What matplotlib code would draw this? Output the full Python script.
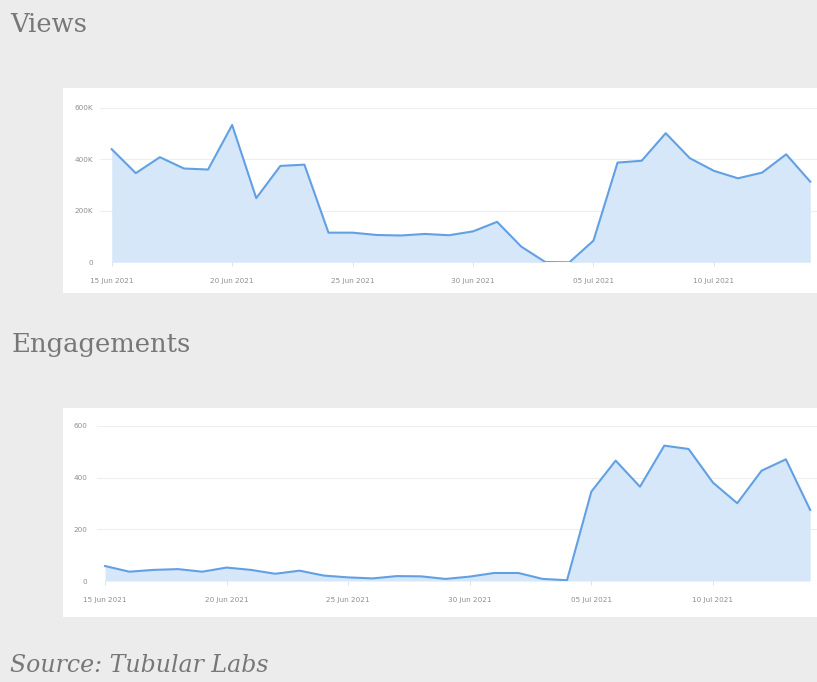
import matplotlib
matplotlib.use("Agg")
import matplotlib.pyplot as plt
import matplotlib.dates as mdates
from matplotlib.patches import Rectangle
from matplotlib.ticker import FuncFormatter
import numpy as np
import datetime as dt

# ---- data ----
start_date = "2021-06-15"
n_days = 30
views_k = [439, 346, 408, 364, 360, 533, 249, 374, 379, 115,
           115, 106, 104, 110, 105, 120, 157, 61, 1, 0,
           84, 387, 394, 501, 404, 355, 326, 348, 419, 313]
engagements = [58, 36, 43, 46, 36, 52, 43, 28, 40, 21,
               14, 10, 19, 18, 8, 17, 31, 31, 8, 3,
               346, 466, 365, 524, 511, 381, 301, 427, 471, 275]
tick_dates = ["2021-06-15", "2021-06-20", "2021-06-25", "2021-06-30",
              "2021-07-05", "2021-07-10"]
views_yticks = [0, 200000, 400000, 600000]
eng_yticks = [0, 200, 400, 600]
titles = ["Views", "Engagements"]
source_text = "Source: Tubular Labs"

d0 = np.datetime64(start_date)
dates = d0 + np.arange(n_days).astype("timedelta64[D]")
dates = dates.astype("datetime64[ms]").astype(dt.datetime)
tdates = [np.datetime64(t).astype("datetime64[ms]").astype(dt.datetime) for t in tick_dates]
views = np.array(views_k) * 1000

W, H = 817, 682
fig = plt.figure(figsize=(W / 100, H / 100), dpi=100)
fig.patch.set_facecolor("#ececec")

def px_rect(x0, y0, x1, y1):
    return Rectangle((x0 / W, 1 - y1 / H), (x1 - x0) / W, (y1 - y0) / H,
                     transform=fig.transFigure, facecolor="white",
                     edgecolor="none", zorder=-5)

fig.patches.append(px_rect(63, 88, 817, 293))
fig.patches.append(px_rect(63, 408, 817, 617))

line_c = "#62a0e4"
fill_c = "#d6e7f9"
tick_c = "#8f8f8f"

def make_ax(left_px, bottom_px, top_px, x_start, x_end):
    ax = fig.add_axes([left_px / W, 1 - bottom_px / H, (W - left_px) / W,
                       (bottom_px - top_px) / H])
    ax.set_facecolor("none")
    for s in ax.spines.values():
        s.set_visible(False)
    d0dt = dates[0]
    ax.set_xlim(mdates.date2num(d0dt) + x_start, mdates.date2num(d0dt) + x_end)
    ax.set_xticks(tdates)
    ax.xaxis.set_major_formatter(mdates.DateFormatter("%d %b %Y"))
    ax.tick_params(axis="x", length=3, width=0.6, color="#dddddd",
                   labelsize=5.2, labelcolor=tick_c, pad=8.5)
    ax.tick_params(axis="y", length=0, labelsize=5.2, labelcolor=tick_c)
    ax.grid(axis="y", color="#eeeeee", lw=0.8)
    ax.set_axisbelow(True)
    return ax

# Views
ax1 = make_ax(100, 262.3, 107.7, -0.486, 29.28)
ax1.fill_between(dates, views, 0, color=fill_c, lw=0, zorder=2)
ax1.plot(dates, views, color=line_c, lw=1.5, zorder=3)
ax1.set_ylim(0, 600000)
ax1.set_yticks(views_yticks)
ax1.yaxis.set_major_formatter(FuncFormatter(lambda v, p: "0" if v == 0 else f"{int(v/1000)}K"))
ax1.tick_params(axis="y", pad=5)

# Engagements
ax2 = make_ax(97, 581, 426, -0.33, 29.28)
ax2.fill_between(dates, engagements, 0, color=fill_c, lw=0, zorder=2)
ax2.plot(dates, engagements, color=line_c, lw=1.5, zorder=3)
ax2.set_ylim(0, 600)
ax2.set_yticks(eng_yticks)
ax2.tick_params(axis="y", pad=7)

title_c = "#777777"
fig.text(10 / W, 1 - 32 / H, titles[0], fontsize=18.5, family="DejaVu Serif",
         color=title_c, va="baseline", ha="left")
fig.text(12 / W, 1 - 352 / H, titles[1], fontsize=18.6, family="DejaVu Serif",
         color=title_c, va="baseline", ha="left")
fig.text(10 / W, 1 - 672 / H, source_text, fontsize=17, family="DejaVu Serif",
         style="italic", color=title_c, va="baseline", ha="left")

fig.savefig("out.png", dpi=100, facecolor=fig.get_facecolor())
